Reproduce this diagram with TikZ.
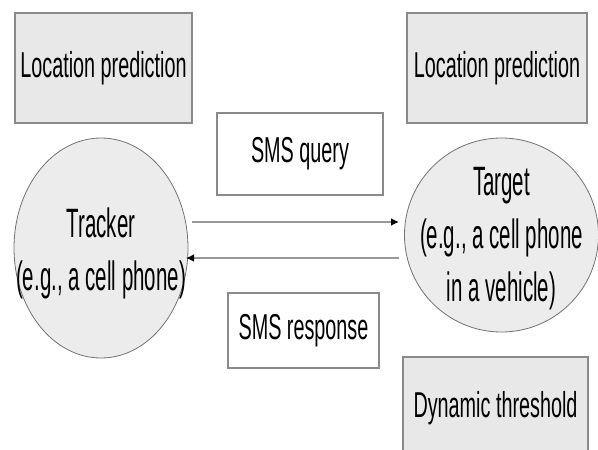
\documentclass[tikz,border=0pt]{standalone}
\usepackage{fontspec}
\setmainfont[FakeStretch=0.55]{Liberation Sans}
\newfontfamily\ellfont[FakeStretch=0.5]{Liberation Sans}
\usetikzlibrary{arrows.meta,shapes.geometric}
\definecolor{boxfill}{HTML}{E8E8E8}
\definecolor{ellfill}{HTML}{ECECEC}
\definecolor{edge}{HTML}{8A8A8A}
\tikzset{
  graybox/.style={draw=edge, line width=1.4pt, fill=boxfill, inner sep=0pt,
    font=\fontsize{36}{42}\selectfont, text=black},
  whitebox/.style={draw=edge, line width=1.2pt, fill=white, inner sep=0pt,
    font=\fontsize{36}{42}\selectfont, text=black},
  ell/.style={ellipse, draw=black!55, line width=0.8pt, fill=ellfill, inner sep=0pt},
  elltext/.style={align=center, inner sep=0pt, font=\ellfont\fontsize{41}{53}\selectfont, text=black},
  msg/.style={draw=black!40, line width=2.6pt, -{Latex[length=8pt,width=8pt,black]}}
}
\begin{document}
\begin{tikzpicture}[x=1pt,y=-1pt]
\useasboundingbox (0,0) rectangle (598,450);
\clip (0,0) rectangle (598,450);
\fill[white] (0,0) rectangle (598,450);
\node[graybox, minimum width=177pt, minimum height=110pt] (lp1) at (103.5,68) {Location prediction};
\node[graybox, minimum width=180pt, minimum height=110pt] (lp2) at (497,68) {Location prediction};
\node[whitebox, minimum width=166pt, minimum height=82pt] (query) at (300,154) {SMS query};
\node[whitebox, minimum width=151pt, minimum height=75pt] (resp) at (303.5,330.5) {SMS response};
\node[graybox, minimum width=185pt, minimum height=102pt] (dyn) at (495.5,408) {Dynamic threshold};
\node[ell, minimum width=174pt, minimum height=220pt] (tracker) at (101,248) {};
\node[elltext] (trackertext) at (101,253) {Tracker\\(e.g., a cell phone)};
\node[ell, minimum width=194pt, minimum height=194pt] (target) at (501.5,235) {};
\node[elltext] (targettext) at (501.5,239) {Target\\(e.g., a cell phone\\in a vehicle)};
\coordinate (qs) at (192,222);
\coordinate (qe) at (399,222);
\coordinate (rs) at (399,258);
\coordinate (re) at (186,258);
\draw[msg] (qs) -- (qe);
\draw[msg] (rs) -- (re);
\end{tikzpicture}
\end{document}
